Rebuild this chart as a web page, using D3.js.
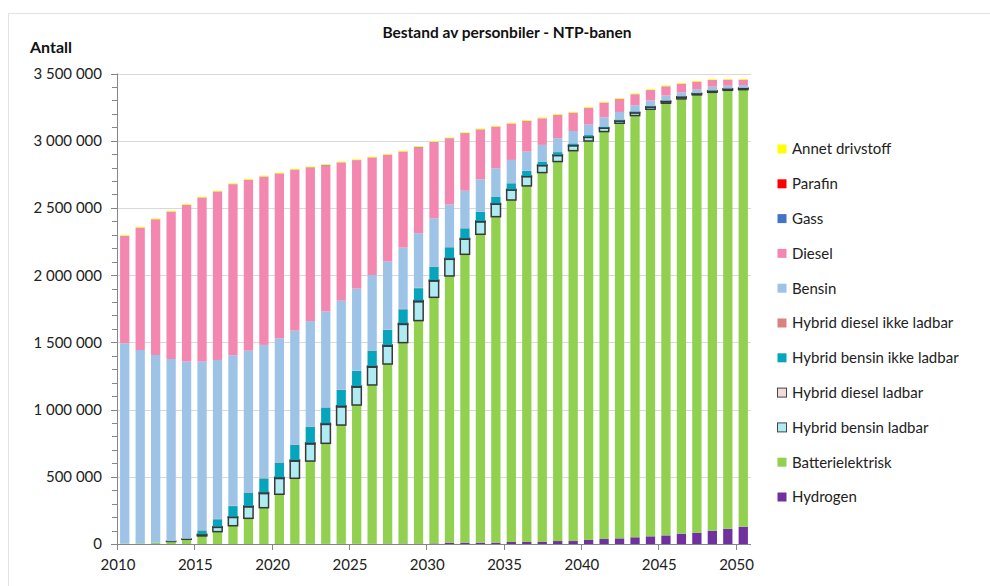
<!DOCTYPE html>
<html><head><meta charset="utf-8">
<script src="https://cdn.jsdelivr.net/npm/d3@7"></script>
<style>body{margin:0;background:#fff;font-family:Lato,"Open Sans",sans-serif}</style>
</head><body>
<svg id="c" width="990" height="586"></svg>
<script>
// values in thousands of cars
const years = d3.range(2010, 2051);
const hydrogen = [0,0,0,0,0,0,0,0,0,0,0,1,1,1,2,2,2,3,3,3,4,10,10,10,10,15,15,15,22,22,30,37,42,50,57,64,77,84,99,114,129];
const batterielektrisk = [3,5,9,19,35,60,92,136,191,270,370,488,616,748,883,1032,1181,1336,1495,1659,1831,1984,2145,2294,2425,2544,2649,2748,2823,2904,2968,3031,3088,3137,3177,3215,3234,3257,3261,3261,3251];
const hybridBensinLadbar = [0,0,0,1,2,8,32,62,86,106,118,128,128,141,136,133,133,133,136,141,122,124,112,93,93,74,69,52,45,37,27,25,15,20,15,12,12,8,8,8,8];
const hybridDieselLadbar = [0,0,0,0,0,4,5,5,6,8,8,8,8,8,8,8,8,8,8,8,7,7,7,6,6,5,5,5,5,5,5,5,5,5,5,5,5,4,4,4,4];
const hybridBensinIkkeLadbar = [0,0,1,1,2,28,55,79,99,104,109,112,119,117,117,112,114,112,104,92,99,82,74,69,50,45,37,25,20,12,12,7,7,5,3,2,2,1,1,1,1];
const hybridDieselIkkeLadbar = [0,0,0,0,0,4,3,3,3,3,3,4,3,3,3,3,3,3,3,3,2,2,2,2,2,2,1,1,1,1,0,0,0,0,0,0,0,0,0,0,0];
const bensin = [1490,1438,1396,1355,1318,1253,1182,1119,1053,990,922,846,783,712,661,610,560,506,456,406,358,316,278,238,209,172,143,123,103,91,78,69,57,47,42,38,29,29,29,21,21];
const diesel = [799,911,1010,1097,1166,1220,1253,1272,1271,1252,1226,1198,1144,1086,1028,955,874,794,714,638,566,489,428,372,309,270,228,197,173,136,124,109,96,81,77,68,64,56,49,44,39];
const gass = [0,0,0,0,0,1,1,1,1,1,1,1,1,4,1,1,1,1,1,4,2,4,1,1,1,1,1,1,1,1,1,1,1,1,1,1,1,1,1,1,1];
const parafin = [0,0,0,0,0,0,0,0,0,0,0,0,0,0,0,0,0,0,0,0,0,0,0,0,0,0,0,0,0,0,0,0,0,0,0,0,0,0,0,0,0];
const annetDrivstoff = [6,6,6,6,6,6,6,6,6,6,6,6,6,6,6,6,6,6,6,6,6,6,6,6,6,6,6,6,6,6,6,6,6,6,6,6,6,6,6,6,6];
const yTicks = [0,500000,1000000,1500000,2000000,2500000,3000000,3500000];
const xTickYears = [2010,2015,2020,2025,2030,2035,2040,2045,2050];

const series = [
  {key:"Hydrogen", values:hydrogen, color:"#7030A0"},
  {key:"Batterielektrisk", values:batterielektrisk, color:"#92D050"},
  {key:"Hybrid bensin ladbar", values:hybridBensinLadbar, color:"#AEEBF2", stroke:true},
  {key:"Hybrid diesel ladbar", values:hybridDieselLadbar, color:"#F2DCDB", stroke:true},
  {key:"Hybrid bensin ikke ladbar", values:hybridBensinIkkeLadbar, color:"#06A5BE"},
  {key:"Hybrid diesel ikke ladbar", values:hybridDieselIkkeLadbar, color:"#D9827F"},
  {key:"Bensin", values:bensin, color:"#9DC3E6"},
  {key:"Diesel", values:diesel, color:"#F487B0"},
  {key:"Gass", values:gass, color:"#4472C4"},
  {key:"Parafin", values:parafin, color:"#FF0000"},
  {key:"Annet drivstoff", values:annetDrivstoff, color:"#FFFF00"}
];

const table = years.map((yr,i)=>{const o={year:yr}; series.forEach(s=>o[s.key]=s.values[i]*1000); return o;});
const stack = d3.stack().keys(series.map(s=>s.key))(table);

const svg = d3.select("#c");
const L=117, R=751, T=73.5, B=544;
const x = d3.scaleBand().domain(years).range([L,R]).paddingInner(0.4).paddingOuter(0.2);
const y = d3.scaleLinear().domain([0,3500000]).range([B,T]);
const step = x.step();
const bnd = yr => x(yr) - step*0.2;

// outer frame
svg.append("rect").attr("x",8.5).attr("y",13.5).attr("width",990).attr("height",600).attr("fill","none").attr("stroke","#e3e3e3");

// grid
svg.append("g").selectAll("line").data(yTicks.slice(1)).join("line")
  .attr("x1",L).attr("x2",R).attr("y1",d=>Math.round(y(d))+0.5).attr("y2",d=>Math.round(y(d))+0.5)
  .attr("stroke","#d9d9d9").attr("stroke-width",1);

// bars
const gb = svg.append("g");
stack.forEach((layer,li)=>{
  const s = series[li];
  gb.append("g").selectAll("rect").data(layer.filter(d=>d[1]-d[0]>0)).join("rect")
    .attr("x",d=>x(d.data.year)).attr("width",x.bandwidth())
    .attr("y",d=>y(d[1])).attr("height",d=>Math.max(0,y(d[0])-y(d[1])))
    .attr("fill",s.color)
    .attr("stroke",s.stroke?"#383838":"none").attr("stroke-width",s.stroke?1.5:0);
});

// y axis
const fmt = d => d3.format(",")(d).replace(/,/g," ");
const ya = svg.append("g").attr("transform",`translate(${L},0)`);
ya.append("line").attr("x1",0.5).attr("x2",0.5).attr("y1",T).attr("y2",B).attr("stroke","#868686");
ya.selectAll(".mn").data(d3.range(0,3500001,100000)).join("line")
  .attr("x1",-5).attr("x2",0).attr("y1",d=>Math.round(y(d))+0.5).attr("y2",d=>Math.round(y(d))+0.5).attr("stroke","#868686");
ya.selectAll(".mj").data(yTicks).join("line")
  .attr("x1",-6).attr("x2",0).attr("y1",d=>Math.round(y(d))+0.5).attr("y2",d=>Math.round(y(d))+0.5).attr("stroke","#868686");
ya.selectAll("text").data(yTicks).join("text")
  .attr("x",-15).attr("y",d=>y(d)).attr("dy","0.36em").attr("text-anchor","end")
  .attr("font-size",15).attr("fill","#222").text(fmt);

// x axis
const xa = svg.append("g");
xa.append("line").attr("x1",L).attr("x2",R).attr("y1",B+0.5).attr("y2",B+0.5).attr("stroke","#868686");
xa.selectAll("line.t").data(xTickYears).join("line").attr("class","t")
  .attr("x1",d=>Math.round(bnd(d))+0.5).attr("x2",d=>Math.round(bnd(d))+0.5).attr("y1",B).attr("y2",B+6).attr("stroke","#868686");
xa.selectAll("text").data(xTickYears).join("text")
  .attr("x",d=>bnd(d)+1).attr("y",570).attr("text-anchor","middle").attr("font-size",15).attr("fill","#222").text(d=>d);

// titles
svg.append("text").attr("x",507).attr("y",38).attr("text-anchor","middle").attr("font-size",15.5).attr("font-weight","bold").attr("fill","#111").text("Bestand av personbiler - NTP-banen");
svg.append("text").attr("x",30).attr("y",53).attr("font-size",16).attr("font-weight","bold").attr("fill","#111").text("Antall");

// legend (top to bottom reverse of stack)
const leg = svg.append("g");
series.slice().reverse().forEach((s,i)=>{
  const cy = 149 + i*34.8;
  leg.append("rect").attr("x",777.5).attr("y",cy-4.5).attr("width",9).attr("height",9)
    .attr("fill",s.color).attr("stroke",s.stroke?"#444":"none").attr("stroke-width",s.stroke?1:0);
  leg.append("text").attr("x",792).attr("y",cy).attr("dy","0.36em").attr("font-size",15).attr("fill","#222").text(s.key);
});
</script>
</body></html>
